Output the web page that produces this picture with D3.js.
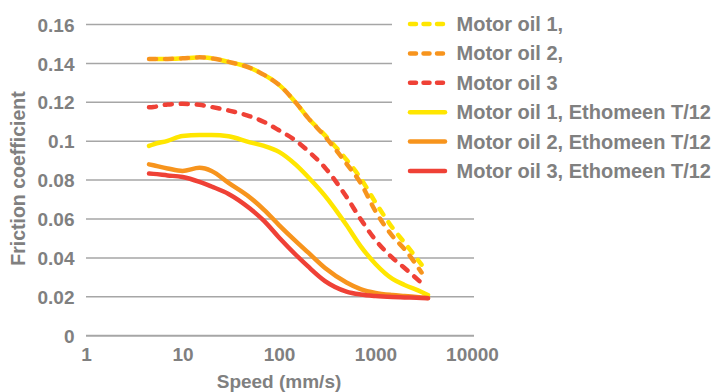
<!DOCTYPE html>
<html>
<head>
<meta charset="utf-8">
<script src="https://cdn.jsdelivr.net/npm/d3@7"></script>
<style>
    body { margin: 0; background: #fff; }
    text { font-family: 'Liberation Sans', Arial, sans-serif; font-weight: bold; fill: #808080; }
</style>
</head>
<body>
<div id="chart"></div>
<script>
//speeds (mm/s), shared by all series
var speeds = [4.5, 5, 7, 10, 15, 20, 30, 50, 70, 100, 150, 200, 300, 500, 700, 1000, 1500, 2000, 3000, 3500];

//friction coefficient values per series (null = no point)
var oil1 = [0.1423, 0.1423, 0.1423, 0.1426, 0.1431, 0.1426, 0.1408, 0.1377, 0.1341, 0.1290, 0.1197, 0.1120, 0.1030, 0.0905, 0.0810, 0.0685, 0.0555, 0.0478, 0.0365, null];
var oil2 = [0.1423, 0.1423, 0.1423, 0.1426, 0.1431, 0.1426, 0.1408, 0.1377, 0.1341, 0.1290, 0.1197, 0.1120, 0.1024, 0.0885, 0.0786, 0.0640, 0.0512, 0.0445, 0.0325, null];
var oil3 = [0.1174, 0.1176, 0.1189, 0.1192, 0.1187, 0.1176, 0.1158, 0.1128, 0.1099, 0.1056, 0.1002, 0.0950, 0.0864, 0.0714, 0.0600, 0.0492, 0.0400, 0.0348, 0.0271, null];
var oil1Eth = [0.0976, 0.0984, 0.1002, 0.1027, 0.1032, 0.1032, 0.1025, 0.0994, 0.0976, 0.0945, 0.0878, 0.0816, 0.0719, 0.0569, 0.0461, 0.0369, 0.0292, 0.0261, 0.0225, 0.0209];
var oil2Eth = [0.0881, 0.0876, 0.0860, 0.0847, 0.0863, 0.0847, 0.0786, 0.0711, 0.0647, 0.0569, 0.0485, 0.0428, 0.0348, 0.0274, 0.0240, 0.0220, 0.0209, 0.0204, 0.0197, 0.0194];
var oil3Eth = [0.0834, 0.0832, 0.0824, 0.0816, 0.0791, 0.0767, 0.0729, 0.0654, 0.0590, 0.0505, 0.0415, 0.0356, 0.0281, 0.0227, 0.0212, 0.0204, 0.0199, 0.0197, 0.0194, 0.0192];

//legend names
var names = ['Motor oil 1,', 'Motor oil 2,', 'Motor oil 3', 'Motor oil 1, Ethomeen T/12', 'Motor oil 2, Ethomeen T/12', 'Motor oil 3, Ethomeen T/12'];

//tick labels
var yTicks = [0, 0.02, 0.04, 0.06, 0.08, 0.1, 0.12, 0.14, 0.16];
var xTicks = [1, 10, 100, 1000, 10000];

var yellow = '#ffe600';
var orange = '#f7941d';
var red = '#ef4136';

//series table built from arrays above
var series = [
    {name: names[0], values: oil1, color: yellow, dashed: true, offset: 8},
    {name: names[1], values: oil2, color: orange, dashed: true, offset: 0},
    {name: names[2], values: oil3, color: red, dashed: true, offset: 0},
    {name: names[3], values: oil1Eth, color: yellow, dashed: false},
    {name: names[4], values: oil2Eth, color: orange, dashed: false},
    {name: names[5], values: oil3Eth, color: red, dashed: false}
];

var width = 716;
var height = 392;

//plot area
var plotLeft = 86;
var plotRight = 472;
var gridRight = 474;
var plotTop = 24.5;
var plotBottom = 335.7;

var svg = d3
    .select('#chart')
    .append('svg')
    .attr('width', width)
    .attr('height', height);

var xScale = d3
    .scaleLog()
    .domain([1, 10000])
    .range([plotLeft, plotRight]);

var yScale = d3
    .scaleLinear()
    .domain([0, 0.16])
    .range([plotBottom, plotTop]);

//horizontal gridlines
svg.append('g')
    .selectAll('line')
    .data(yTicks)
    .enter()
    .append('line')
    .attr('x1', plotLeft)
    .attr('x2', gridRight)
    .attr('y1', function(d) { return yScale(d); })
    .attr('y2', function(d) { return yScale(d); })
    .attr('stroke', '#a6a6a6')
    .attr('stroke-width', function(d) { return d === 0 ? 2 : 1.5; });

//y axis labels
var yAxis = d3.axisLeft(yScale)
    .tickValues(yTicks)
    .tickFormat(function(d) { return d3.format('~g')(d); })
    .tickSize(0)
    .tickPadding(0);

svg.append('g')
    .attr('transform', 'translate(' + (plotLeft - 11.5) + ',0)')
    .call(yAxis)
    .call(function(g) { g.select('.domain').remove(); })
    .selectAll('text')
    .attr('font-size', 19)
    .attr('fill', '#808080')
    .attr('dy', '0.35em');

//x axis labels
var xAxis = d3.axisBottom(xScale)
    .tickValues(xTicks)
    .tickFormat(d3.format('d'))
    .tickSize(0)
    .tickPadding(0);

svg.append('g')
    .attr('transform', 'translate(0,' + (plotBottom + 18.5) + ')')
    .call(xAxis)
    .call(function(g) { g.select('.domain').remove(); })
    .selectAll('text')
    .attr('font-size', 19)
    .attr('fill', '#808080')
    .attr('dy', '0.35em');

//axis titles
svg.append('text')
    .attr('x', 279)
    .attr('y', 388)
    .attr('text-anchor', 'middle')
    .attr('font-size', 19)
    .text('Speed (mm/s)');

svg.append('text')
    .attr('transform', 'translate(24.5,178.5)rotate(-90)')
    .attr('text-anchor', 'middle')
    .attr('font-size', 19.5)
    .text('Friction coefficient');

//lines
var line = d3.line()
    .defined(function(d) { return d[1] !== null; })
    .x(function(d) { return xScale(d[0]); })
    .y(function(d) { return yScale(d[1]); })
    .curve(d3.curveMonotoneX);

//draw solid lines first, then dashed on top
var drawOrder = [3, 4, 5, 0, 1, 2];

svg.append('g')
    .selectAll('path')
    .data(drawOrder.map(function(i) { return series[i]; }))
    .enter()
    .append('path')
    .attr('d', function(s) {
        return line(speeds.map(function(v, i) { return [v, s.values[i]]; }));
    })
    .attr('fill', 'none')
    .attr('stroke', function(s) { return s.color; })
    .attr('stroke-width', 4.5)
    .attr('stroke-linecap', 'round')
    .attr('stroke-linejoin', 'round')
    .attr('stroke-dasharray', function(s) { return s.dashed ? '7,9' : null; })
    .attr('stroke-dashoffset', function(s) { return s.dashed ? s.offset : null; });

//legend, white box covers the gridlines
var legend = svg.append('g');

legend.append('rect')
    .attr('x', 392)
    .attr('y', 0)
    .attr('width', width - 392)
    .attr('height', 196)
    .attr('fill', '#fff');

var rowY = function(i) { return 24 + i * 29.4; };

legend.selectAll('line')
    .data(series)
    .enter()
    .append('line')
    .attr('x1', 410)
    .attr('x2', 445)
    .attr('y1', function(d, i) { return rowY(i); })
    .attr('y2', function(d, i) { return rowY(i); })
    .attr('stroke', function(d) { return d.color; })
    .attr('stroke-width', 4.5)
    .attr('stroke-linecap', 'round')
    .attr('stroke-dasharray', function(d) { return d.dashed ? '6,7.5' : null; });

legend.selectAll('text')
    .data(series)
    .enter()
    .append('text')
    .attr('x', 456.5)
    .attr('y', function(d, i) { return rowY(i); })
    .attr('dy', '0.35em')
    .attr('font-size', 20)
    .text(function(d) { return d.name; });
</script>
</body>
</html>
